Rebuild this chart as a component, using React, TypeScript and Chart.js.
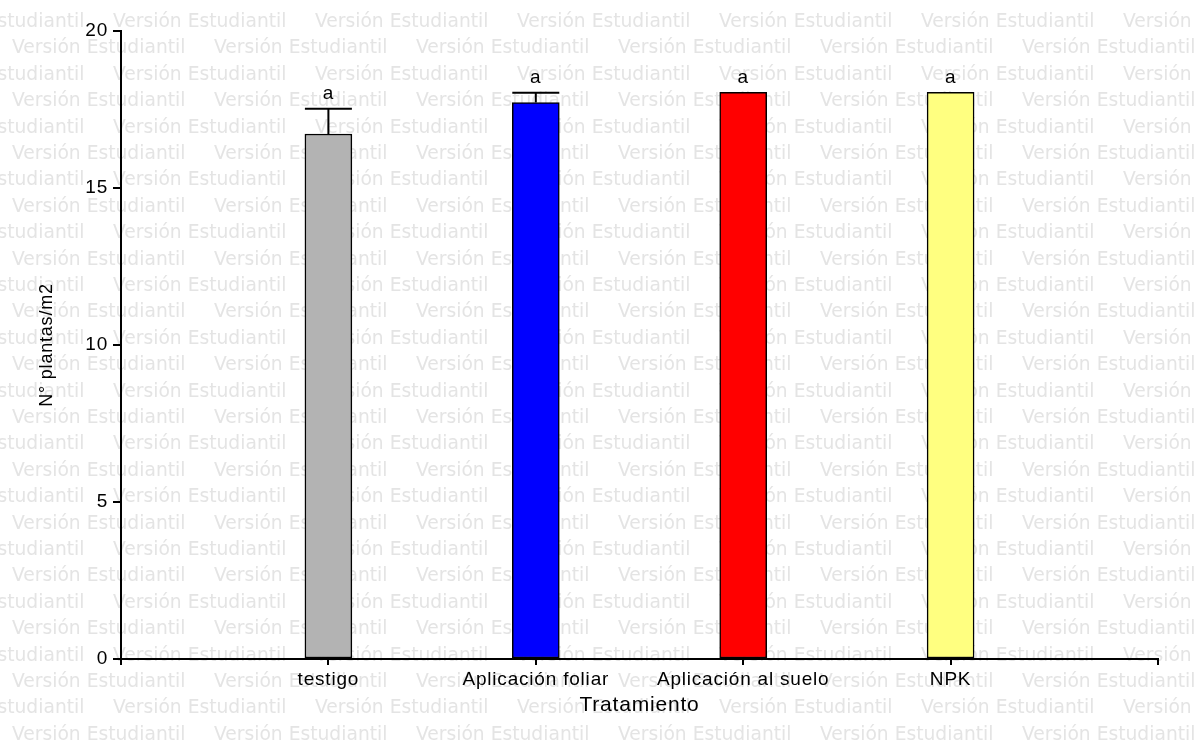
import { useEffect, useRef } from 'react';
import { Chart, registerables } from 'chart.js';

Chart.register(...registerables);

// Treatments and mean plant density (plants per m²) with standard errors
const treatments = ['testigo', 'Aplicación foliar', 'Aplicación al suelo', 'NPK'];
const plantsPerM2 = [16.72, 17.72, 18.05, 18.05];
const standardErrors = [0.8, 0.31, 0, 0];
const groupLetters = ['a', 'a', 'a', 'a'];
const barColors = ['#b3b3b3', '#0000ff', '#ff0000', '#ffff80'];
const yTickValues = [0, 5, 10, 15, 20];
const watermarkText = 'Versión Estudiantil';

const FAMILY = '"Liberation Sans", Arial, Helvetica, sans-serif';

// Tiled light-grey "Versión Estudiantil" text behind the whole canvas
const watermarkPlugin = {
  id: 'watermark',
  beforeDraw(chart: any) {
    const { ctx, width, height } = chart;
    ctx.save();
    (ctx as any).letterSpacing = '0px';
    ctx.font = '18.7px "DejaVu Sans", Verdana, sans-serif';
    ctx.fillStyle = '#e4e4e4';
    ctx.textAlign = 'left';
    ctx.textBaseline = 'alphabetic';
    const rowGap = 26.4;
    const period = 202;
    for (let k = 0; 27 + rowGap * k < height + 20; k++) {
      const baseY = 27 + rowGap * k;
      const startX = k % 2 === 0 ? -89 : 12;
      for (let x = startX; x < width; x += period) {
        ctx.fillText(watermarkText, x, baseY);
      }
    }
    ctx.restore();
    // slightly spaced lettering for the axis text
    (ctx as any).letterSpacing = '0.8px';
  },
};

// Standard-error whiskers and significance letters above each bar
const errorBarPlugin = {
  id: 'errorBars',
  afterDatasetsDraw(chart: any) {
    const { ctx } = chart;
    const meta = chart.getDatasetMeta(0);
    const yScale = chart.scales.y;
    ctx.save();
    ctx.strokeStyle = '#000';
    ctx.fillStyle = '#000';
    ctx.lineWidth = 2;
    ctx.font = `19px ${FAMILY}`;
    ctx.textAlign = 'center';
    ctx.textBaseline = 'alphabetic';
    treatments.forEach((_, i) => {
      const bar = meta.data[i + 1];
      if (!bar) return;
      const err = standardErrors[i];
      const yTop = yScale.getPixelForValue(plantsPerM2[i] + err);
      if (err > 0) {
        const half = bar.width / 2;
        ctx.beginPath();
        ctx.moveTo(bar.x, bar.y);
        ctx.lineTo(bar.x, yTop);
        ctx.moveTo(bar.x - half, yTop);
        ctx.lineTo(bar.x + half, yTop);
        ctx.stroke();
      }
      ctx.fillText(groupLetters[i], bar.x, yTop - 9.5);
    });
    ctx.restore();
  },
};

export default function App() {
  const canvasRef = useRef<HTMLCanvasElement>(null);

  useEffect(() => {
    const canvas = canvasRef.current;
    if (!canvas) return;
    const labels = ['', ...treatments, ''];
    const chart = new Chart(canvas, {
      type: 'bar',
      data: {
        labels,
        datasets: [
          {
            data: [null, ...plantsPerM2, null],
            backgroundColor: ['transparent', ...barColors, 'transparent'],
            borderColor: '#000',
            borderWidth: 1.5,
            borderSkipped: false,
            barThickness: 47,
          },
        ],
      },
      options: {
        responsive: false,
        animation: false,
        devicePixelRatio: 1,
        layout: { padding: { top: 31, right: 39, left: 0, bottom: 0 } },
        plugins: {
          legend: { display: false },
          tooltip: { enabled: false },
        },
        scales: {
          x: {
            type: 'category',
            offset: false,
            grid: {
              offset: false,
              drawOnChartArea: false,
              drawTicks: true,
              tickLength: 6,
              color: '#000',
              lineWidth: 2,
            },
            border: { display: true, color: '#000', width: 2 },
            ticks: {
              color: '#000',
              font: { family: FAMILY, size: 19 },
              padding: 3,
              maxRotation: 0,
              autoSkip: false,
            },
            title: {
              display: true,
              text: 'Tratamiento',
              color: '#000',
              font: { family: FAMILY, size: 21 },
              padding: { top: 0, bottom: 22 },
            },
            afterFit: (s: any) => {
              s.height = 81;
            },
          },
          y: {
            type: 'linear',
            min: 0,
            max: 20,
            afterBuildTicks: (s: any) => {
              s.ticks = yTickValues.map((v) => ({ value: v }));
            },
            grid: {
              drawOnChartArea: false,
              drawTicks: true,
              tickLength: 8,
              color: '#000',
              lineWidth: 2,
            },
            border: { display: true, color: '#000', width: 2 },
            ticks: {
              color: '#000',
              font: { family: FAMILY, size: 19 },
              padding: 5,
            },
            title: {
              display: true,
              text: 'N° plantas/m2',
              color: '#000',
              font: { family: FAMILY, size: 18 },
              padding: { top: 36, bottom: 0 },
            },
            afterFit: (s: any) => {
              s.width = 121;
            },
          },
        },
      },
      plugins: [watermarkPlugin, errorBarPlugin],
    });
    return () => chart.destroy();
  }, []);

  return (
    <div style={{ position: 'fixed', left: 0, top: 0, width: 1197, height: 740, background: '#fff' }}>
      <canvas ref={canvasRef} width={1197} height={740} style={{ display: 'block' }} />
    </div>
  );
}
